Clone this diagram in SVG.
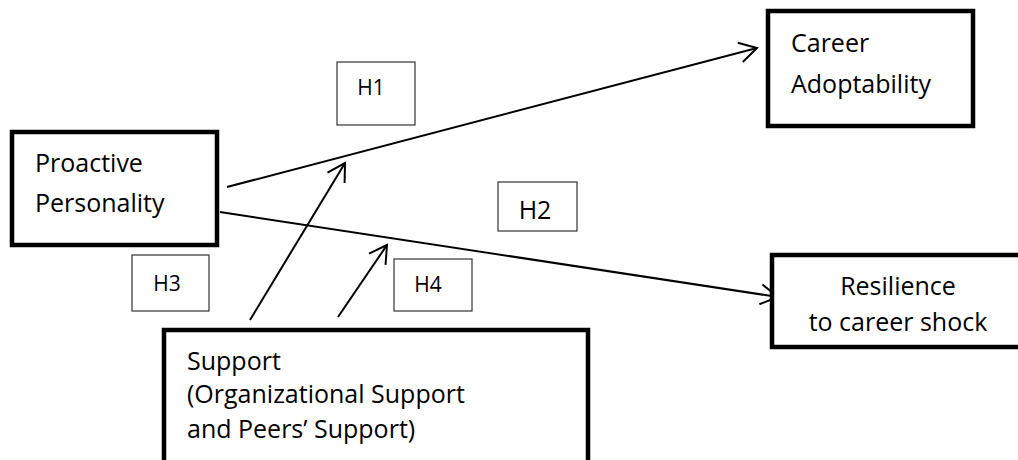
<svg xmlns="http://www.w3.org/2000/svg" width="1018" height="460" viewBox="0 0 1018 460">
<style>
.node{fill:#fff;stroke:#000;stroke-width:4.5}
.hbox{fill:#fff;stroke:#333;stroke-width:1.2}
.t{font-family:"Open Sans","Noto Sans",sans-serif;font-size:25px;fill:#000}
.h{font-family:"Open Sans","Noto Sans",sans-serif;font-size:21px;fill:#000;text-anchor:middle}
.c{stroke:#000;stroke-width:2;fill:none;marker-end:url(#arr)}
</style>
<defs>
<marker id="arr" markerUnits="userSpaceOnUse" viewBox="0 0 22 26" refX="20" refY="13" markerWidth="22" markerHeight="26" orient="auto">
<path d="M2.7,3 L20,13 L2.7,23" fill="none" stroke="#000" stroke-width="2"/>
</marker>
</defs>
<rect width="1018" height="460" fill="#fff"/>
<g id="connectors">
<line class="c" x1="227" y1="187" x2="757" y2="48"/>
<line class="c" x1="220" y1="212" x2="778" y2="297"/>
<line class="c" x1="250" y1="320" x2="345" y2="163"/>
<line class="c" x1="338" y1="317" x2="387" y2="245"/>
</g>
<g id="proactive">
<rect class="node" x="12" y="132" width="205" height="113"/>
<text class="t" x="35" y="172">Proactive</text>
<text class="t" x="35" y="212">Personality</text>
</g>
<g id="career">
<rect class="node" x="768" y="11" width="205" height="115"/>
<text class="t" x="791" y="52">Career</text>
<text class="t" x="791" y="93">Adoptability</text>
</g>
<g id="resilience">
<rect class="node" x="772" y="255" width="260" height="92"/>
<text class="t" x="898" y="295" text-anchor="middle">Resilience</text>
<text class="t" x="898" y="331" text-anchor="middle">to career shock</text>
</g>
<g id="support">
<rect class="node" x="164" y="330" width="424" height="150"/>
<text class="t" x="187" y="370">Support</text>
<text class="t" x="187" y="403">(Organizational Support</text>
<text class="t" x="187" y="438">and Peers’ Support)</text>
</g>
<g id="h1">
<rect class="hbox" x="337" y="62" width="78" height="63"/>
<text class="h" x="371" y="95">H1</text>
</g>
<g id="h2">
<rect class="hbox" x="498" y="182" width="79" height="49"/>
<text class="h" x="535" y="219" style="font-size:25px">H2</text>
</g>
<g id="h3">
<rect class="hbox" x="132" y="255" width="77" height="56"/>
<text class="h" x="167" y="291">H3</text>
</g>
<g id="h4">
<rect class="hbox" x="394" y="259" width="78" height="52"/>
<text class="h" x="428" y="292">H4</text>
</g>
</svg>
